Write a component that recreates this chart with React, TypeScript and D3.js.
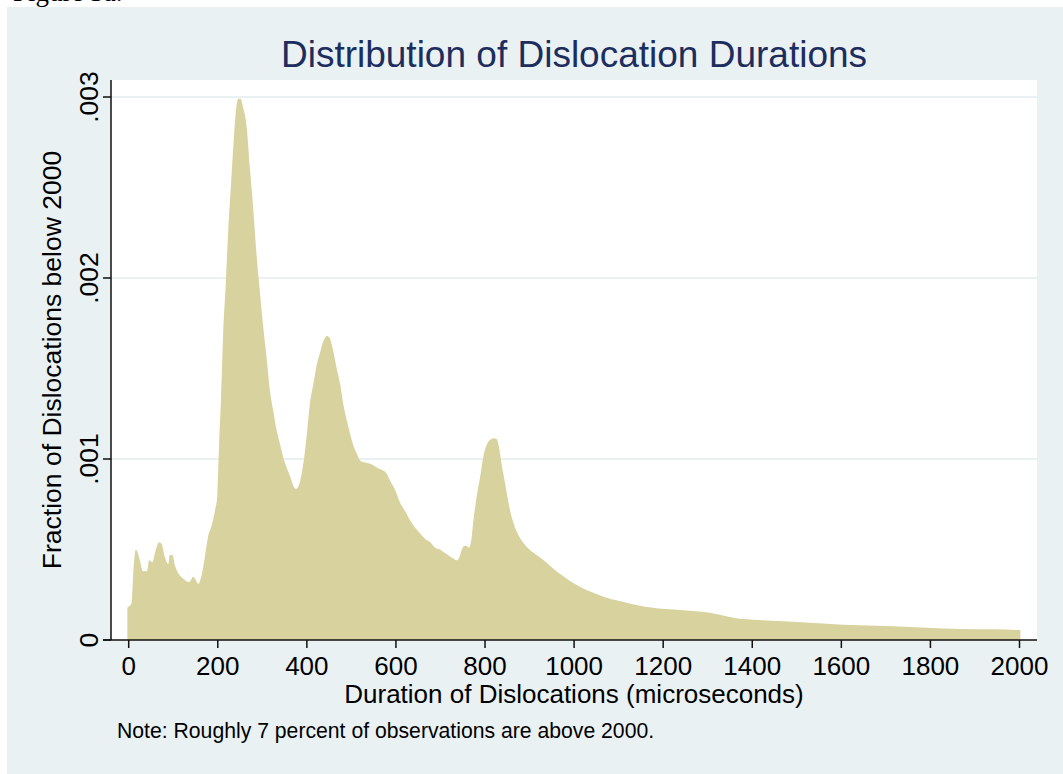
import React from "react";
import * as d3 from "d3";

const durations: number[] = [-3, 6, 11, 16, 19, 25, 32, 41, 46, 53, 60, 68, 74, 81, 89, 92, 98, 104, 111, 122, 136, 145, 151, 156, 164, 171, 179, 186, 194, 199, 203, 207, 212, 218, 224, 229, 235, 241, 246, 251, 257, 265, 272, 280, 287, 295, 302, 310, 317, 325, 332, 340, 347, 355, 363, 370, 376, 384, 393, 400, 407, 415, 422, 430, 437, 445, 451, 458, 467, 475, 482, 490, 497, 505, 512, 520, 531, 546, 559, 568, 579, 587, 598, 609, 621, 632, 643, 654, 665, 677, 688, 699, 710, 722, 729, 736, 742, 748, 753, 759, 764, 769, 774, 781, 789, 796, 804, 811, 820, 826, 831, 837, 843, 849, 856, 864, 871, 879, 890, 901, 916, 931, 946, 961, 983, 1006, 1028, 1050, 1073, 1095, 1118, 1140, 1163, 1185, 1208, 1237, 1282, 1327, 1357, 1417, 1492, 1567, 1641, 1716, 1791, 1866, 1941, 2002];

// fraction values in thousandths
const fractionsMilli: number[] = [0.18, 0.20, 0.40, 0.50, 0.49, 0.44, 0.38, 0.38, 0.44, 0.43, 0.49, 0.54, 0.53, 0.46, 0.42, 0.47, 0.47, 0.41, 0.37, 0.34, 0.32, 0.35, 0.33, 0.31, 0.36, 0.46, 0.58, 0.63, 0.72, 0.80, 1.08, 1.32, 1.69, 1.97, 2.29, 2.49, 2.73, 2.93, 2.99, 2.99, 2.94, 2.83, 2.61, 2.37, 2.13, 1.91, 1.73, 1.55, 1.38, 1.26, 1.16, 1.08, 1.01, 0.95, 0.90, 0.85, 0.835, 0.87, 0.99, 1.14, 1.31, 1.42, 1.52, 1.59, 1.65, 1.68, 1.67, 1.61, 1.50, 1.41, 1.30, 1.21, 1.14, 1.07, 1.03, 0.99, 0.98, 0.97, 0.95, 0.94, 0.92, 0.88, 0.83, 0.76, 0.71, 0.66, 0.62, 0.59, 0.56, 0.54, 0.51, 0.50, 0.48, 0.46, 0.45, 0.44, 0.455, 0.50, 0.52, 0.52, 0.51, 0.55, 0.66, 0.79, 0.90, 1.01, 1.08, 1.105, 1.114, 1.11, 1.07, 0.976, 0.893, 0.81, 0.718, 0.645, 0.60, 0.562, 0.525, 0.497, 0.47, 0.442, 0.41, 0.378, 0.34, 0.304, 0.276, 0.254, 0.234, 0.219, 0.206, 0.193, 0.182, 0.176, 0.171, 0.166, 0.157, 0.14, 0.123, 0.11, 0.101, 0.09, 0.081, 0.076, 0.068, 0.061, 0.059, 0.055];

const xTicks: number[] = [0, 200, 400, 600, 800, 1000, 1200, 1400, 1600, 1800, 2000];
const yTicks: number[] = [0, 0.001, 0.002, 0.003];
const yTickLabels: string[] = ["0", ".001", ".002", ".003"];

const captionText = "Figure 3a.";
const titleText = "Distribution of Dislocation Durations";
const xTitle = "Duration of Dislocations (microseconds)";
const yTitle = "Fraction of Dislocations below 2000";
const noteText = "Note: Roughly 7 percent of observations are above 2000.";

const W = 1063;
const H = 774;
const FONT = "'Liberation Sans', Arial, Helvetica, sans-serif";

export default function App() {
  const plotLeft = 111;
  const plotRight = 1037;
  const plotTop = 80;
  const plotBottom = 640;

  const x = d3.scaleLinear().domain([0, 2000]).range([128.7, 1019.5]);
  const y = d3.scaleLinear().domain([0, 0.003]).range([plotBottom, 97]);

  const data = durations.map((d, i) => ({ d, f: fractionsMilli[i] / 1000 }));
  const area = d3
    .area<{ d: number; f: number }>()
    .x((p) => x(p.d))
    .y0(y(0))
    .y1((p) => y(p.f))
    .curve(d3.curveMonotoneX);

  return (
    <svg
      width={W}
      height={H}
      style={{ position: "absolute", left: 0, top: 0, display: "block" }}
      fontFamily={FONT}
    >
      <rect x={0} y={0} width={W} height={H} fill="#ffffff" />
      <text x={13} y={1} fontFamily="'Liberation Serif', 'DejaVu Serif', serif" fontSize={27} fill="#000">
        {captionText}
      </text>
      <rect x={7} y={7} width={W - 7} height={H - 7} fill="#eaf1f3" />
      <rect x={plotLeft} y={plotTop} width={plotRight - plotLeft} height={plotBottom - plotTop} fill="#ffffff" />

      {yTicks.slice(1).map((t) => (
        <line key={t} x1={plotLeft} x2={plotRight} y1={y(t)} y2={y(t)} stroke="#eaf1f3" strokeWidth={2} />
      ))}

      <path d={area(data) || ""} fill="#d8d29f" />

      {/* axes */}
      <line x1={plotLeft} x2={plotLeft} y1={plotTop} y2={plotBottom} stroke="#111" strokeWidth={1.5} />
      <line x1={plotLeft - 8} x2={plotRight} y1={plotBottom} y2={plotBottom} stroke="#111" strokeWidth={1.5} />

      {yTicks.map((t, i) => (
        <g key={"yt" + t}>
          <line x1={plotLeft - 8} x2={plotLeft} y1={y(t)} y2={y(t)} stroke="#111" strokeWidth={1.5} />
          <text
            transform={`translate(${plotLeft - 13},${y(t)}) rotate(-90)`}
            textAnchor="middle"
            fontSize={26.5}
            fill="#000"
          >
            {yTickLabels[i]}
          </text>
        </g>
      ))}

      {xTicks.map((t) => (
        <g key={"xt" + t}>
          <line x1={x(t)} x2={x(t)} y1={plotBottom} y2={plotBottom + 8} stroke="#111" strokeWidth={1.5} />
          <text x={x(t)} y={plotBottom + 35} textAnchor="middle" fontSize={26} fill="#000">
            {t}
          </text>
        </g>
      ))}

      <text x={574} y={67} textAnchor="middle" fontSize={37} fill="#1c2d5e">
        {titleText}
      </text>
      <text x={574} y={703} textAnchor="middle" fontSize={26} fill="#000">
        {xTitle}
      </text>
      <text transform={`translate(61,360) rotate(-90)`} textAnchor="middle" fontSize={26.5} fill="#000">
        {yTitle}
      </text>
      <text x={117} y={738} fontSize={21.2} fill="#000">
        {noteText}
      </text>
    </svg>
  );
}
